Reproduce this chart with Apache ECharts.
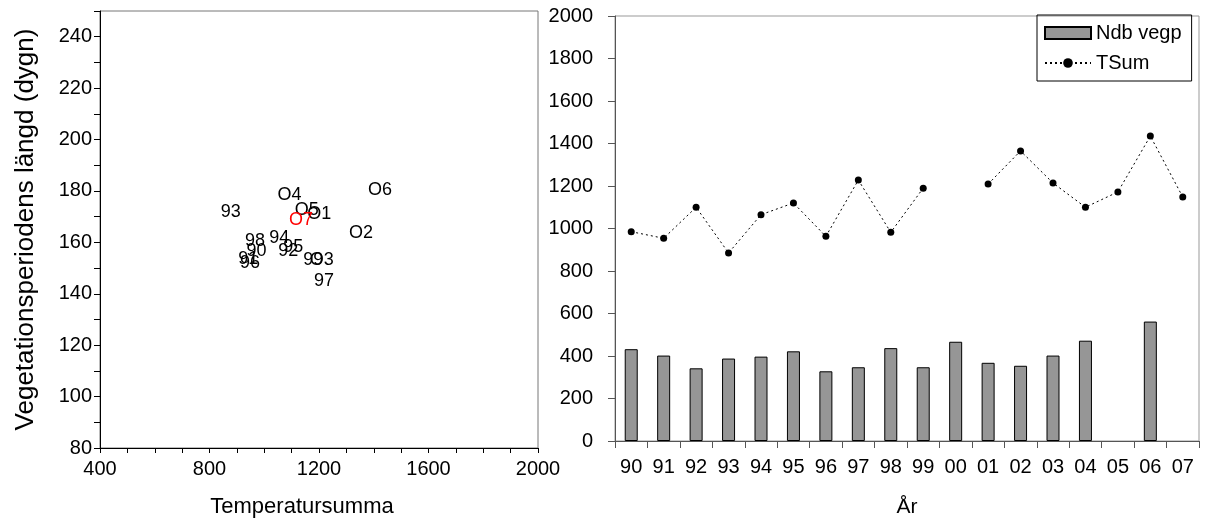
<!DOCTYPE html>
<html>
<head>
<meta charset="utf-8">
<script src="https://cdn.jsdelivr.net/npm/echarts@6/dist/echarts.min.js"></script>
<style>
html, body { margin: 0; padding: 0; background: #fff; }
#main { width: 1205px; height: 525px; }
</style>
</head>
<body>
<div id="main"></div>
<script>
var myChart = echarts.init(document.getElementById('main'), null, {renderer: 'canvas'});

// vänster: temperatursumma mot vegetationsperiodens längd
var scatterLabels = ['93', 'O4', 'O5', 'O1', 'O7', 'O6', 'O2', '98', '94', '95', '92', '90', '91', '96', '99', 'O3', '97'];
var scatterTemp   = [878, 1092, 1155, 1201, 1134, 1423, 1353, 966, 1055, 1106, 1088, 972, 942, 948, 1179, 1210, 1218];
var scatterDays   = [171.9, 178.3, 172.5, 171, 168.6, 180.3, 163.8, 160.6, 161.7, 158.3, 156.5, 156.5, 153.5, 151.8, 153.1, 153.1, 144.8];

// höger: staplar och linje per år
var years   = ['90', '91', '92', '93', '94', '95', '96', '97', '98', '99', '00', '01', '02', '03', '04', '05', '06', '07'];
var ndbVegp = [432, 402, 342, 388, 397, 422, 328, 347, 437, 347, 467, 368, 354, 402, 472, null, 562, null];
var tSum    = [985, 954, 1100, 885, 1065, 1120, 963, 1228, 982, 1190, null, 1209, 1365, 1214, 1100, 1172, 1435, 1148];

var font = 'Liberation Sans, Arial, sans-serif';

var scatterData = [];
for (var i = 0; i < scatterLabels.length; i++) {
    var item = {name: scatterLabels[i], value: [scatterTemp[i], scatterDays[i]]};
    if (scatterLabels[i] === 'O7') {
        item.label = {color: '#ff0000'};
    }
    scatterData.push(item);
}

option = {
    animation: false,
    backgroundColor: '#fff',
    grid: [
        {left: 100, top: 11, width: 438, height: 437, show: true, borderColor: '#777', borderWidth: 1},
        {left: 615, top: 16, width: 584, height: 425, show: true, borderColor: '#999', borderWidth: 1}
    ],
    legend: {
        orient: 'vertical',
        left: 1037,
        top: 15,
        width: 158,
        padding: [8, 10, 8, 7],
        itemGap: 10,
        itemWidth: 46,
        itemHeight: 12,
        borderColor: '#000',
        borderWidth: 1,
        borderRadius: 0,
        textStyle: {fontSize: 20, fontFamily: font, color: '#000'},
        data: [
            {name: 'Ndb vegp', icon: 'rect'},
            {name: 'TSum'}
        ]
    },
    xAxis: [
        {
            gridIndex: 0,
            type: 'value',
            min: 400,
            max: 2000,
            interval: 100,
            name: 'Temperatursumma',
            nameLocation: 'middle',
            nameGap: 48,
            nameTextStyle: {fontSize: 22, fontFamily: font, color: '#000', padding: [0, 34, 0, 0]},
            axisLine: {show: true, lineStyle: {color: '#000'}},
            axisTick: {show: true, length: 5, lineStyle: {color: '#000'}},
            splitLine: {show: false},
            axisLabel: {
                fontSize: 20, fontFamily: font, color: '#000', margin: 11,
                formatter: function (v) { return v % 400 === 0 ? String(v) : ''; }
            }
        },
        {
            gridIndex: 1,
            type: 'category',
            data: years,
            name: 'År',
            nameLocation: 'middle',
            nameGap: 56,
            nameTextStyle: {fontSize: 21, fontFamily: font, color: '#000'},
            axisLine: {lineStyle: {color: '#555'}},
            axisTick: {show: true, length: 7, alignWithLabel: false, lineStyle: {color: '#555'}},
            axisLabel: {fontSize: 20, fontFamily: font, color: '#000', margin: 16, interval: 0}
        }
    ],
    yAxis: [
        {
            gridIndex: 0,
            type: 'value',
            min: 80,
            max: 250,
            interval: 10,
            name: 'Vegetationsperiodens längd (dygn)',
            nameLocation: 'middle',
            nameGap: 61,
            nameTextStyle: {fontSize: 26, fontFamily: font, color: '#000'},
            axisLine: {show: true, lineStyle: {color: '#000'}},
            axisTick: {show: true, length: 6, lineStyle: {color: '#000'}},
            splitLine: {show: false},
            axisLabel: {
                fontSize: 20, fontFamily: font, color: '#000', margin: 8,
                formatter: function (v) { return (v % 20 === 0 && v <= 240) ? String(v) : ''; }
            }
        },
        {
            gridIndex: 1,
            type: 'value',
            min: 0,
            max: 2000,
            interval: 200,
            axisLine: {show: true, lineStyle: {color: '#555'}},
            axisTick: {show: true, length: 7, lineStyle: {color: '#555'}},
            splitLine: {show: false},
            axisLabel: {
                fontSize: 20, fontFamily: font, color: '#000', margin: 22,
                formatter: function (v) { return String(v); }
            }
        }
    ],
    series: [
        {
            name: 'scatter',
            type: 'scatter',
            xAxisIndex: 0,
            yAxisIndex: 0,
            symbolSize: 1,
            itemStyle: {color: 'transparent', opacity: 1},
            label: {
                show: true,
                position: 'inside',
                formatter: '{b}',
                fontSize: 18,
                fontFamily: font,
                color: '#000',
                opacity: 1
            },
            data: scatterData
        },
        {
            name: 'Ndb vegp',
            type: 'bar',
            xAxisIndex: 1,
            yAxisIndex: 1,
            barWidth: 13,
            itemStyle: {color: '#969696', borderColor: '#000', borderWidth: 1},
            data: ndbVegp
        },
        {
            name: 'TSum',
            type: 'line',
            xAxisIndex: 1,
            yAxisIndex: 1,
            symbol: 'circle',
            symbolSize: 7,
            connectNulls: false,
            itemStyle: {color: '#000'},
            lineStyle: {color: '#000', width: 1, type: [2, 3]},
            data: tSum
        }
    ]
};

myChart.setOption(option);
</script>
</body>
</html>
